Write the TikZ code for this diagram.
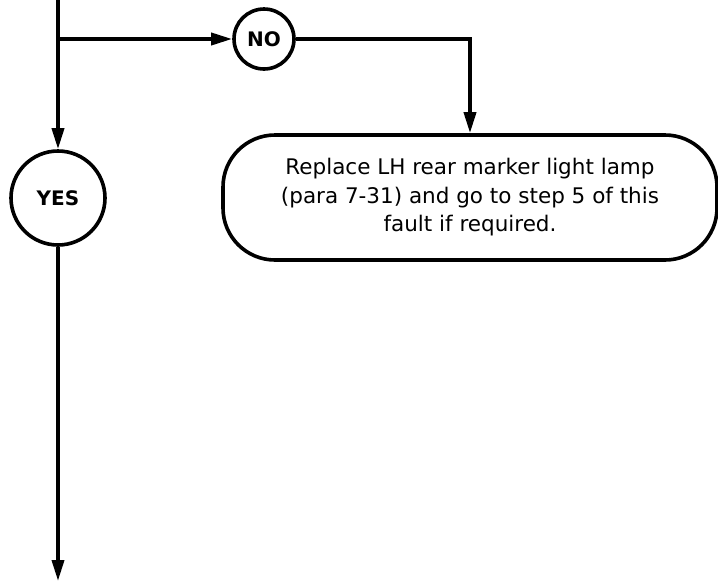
\documentclass[tikz,border=0pt]{standalone}
\usepackage{fontspec}
\setmainfont{DejaVu Sans}
\usetikzlibrary{arrows.meta}
\begin{document}
\begin{tikzpicture}[x=1pt,y=-1pt,line width=3.6pt,
  flow/.style={-{Triangle[length=21pt,width=12pt]}},
  answer/.style={draw,circle,inner sep=0pt,font=\bfseries\fontsize{20}{20}\selectfont},
  action/.style={draw,rounded corners=52pt,minimum width=494pt,minimum height=125pt,
    align=center,font=\fontsize{21.5}{28.5}\selectfont}]
\useasboundingbox (0,0) rectangle (718,582);
\coordinate (top) at (58,0);
\coordinate (split) at (58,39);
\coordinate (bend) at (470,39);
\coordinate (bottom) at (58,581);
\node[answer,minimum size=60pt] (no) at (264,39) {NO};
\node[answer,minimum size=94pt] (yes) at (58,198) {YES};
\node[action] (lamp) at (470,197.5) {Replace LH rear marker light lamp\\(para 7-31) and go to step 5 of this\\fault if required.};
\draw (top) -- (split);
\draw[flow] (split) -- (yes);
\draw[flow] (split) -- (no);
\draw[flow] (no) -- (bend) -- (lamp);
\draw[flow] (yes) -- (bottom);
\end{tikzpicture}
\end{document}
